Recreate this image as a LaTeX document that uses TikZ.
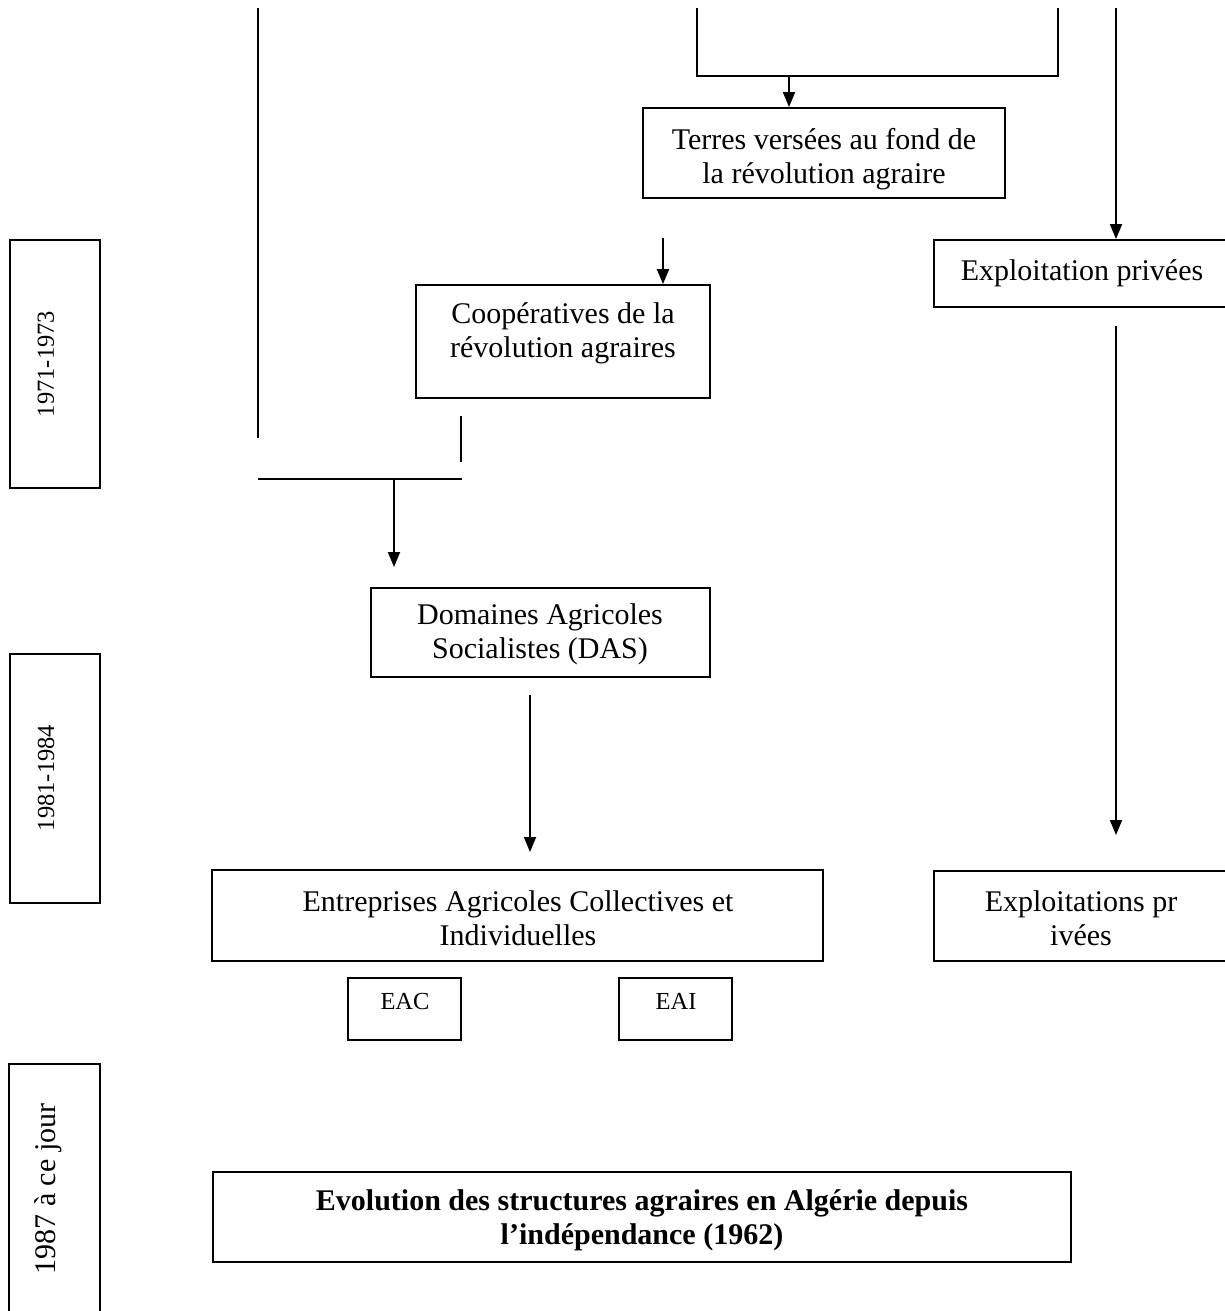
\documentclass[tikz,border=0pt]{standalone}
\usepackage{fontspec}
\setmainfont{Liberation Serif}
\usetikzlibrary{arrows.meta,fit}
\newcommand\bigfs{\fontsize{30}{34}\selectfont}
\newcommand\smallfs{\fontsize{24.5}{28}\selectfont}
\begin{document}
\begin{tikzpicture}[x=1pt,y=-1pt,
  box/.style={draw, line width=1.8pt, inner sep=0pt},
  txt/.style={font=\bigfs, align=center, inner sep=0pt},
  smalltxt/.style={font=\smallfs, inner sep=0pt},
  conn/.style={line width=1.8pt},
  arr/.style={conn, -{Triangle[length=15pt,width=12pt]}}]
\useasboundingbox (0,0) rectangle (1225,1311);

% boxes
\node[box, fit={(643,108)(1005,198)}] (terres) {};
\node[txt] (terresT) at (824,159) {Terres versées au fond de\\la révolution agraire};

\node[box, fit={(934,240)(1232,307)}] (exp1) {};
\node[txt] (exp1T) at (1082,273) {Exploitation privées};

\node[box, fit={(416,285)(710,398)}] (coop) {};
\node[txt] (coopT) at (563,333) {Coopératives de la\\révolution agraires};

\node[box, fit={(371,588)(710,677)}] (das) {};
\node[txt] (dasT) at (540,634) {Domaines Agricoles\\Socialistes (DAS)};

\node[box, fit={(212,870)(823,961)}] (eaci) {};
\node[txt] (eaciT) at (518,918) {Entreprises Agricoles Collectives et\\Individuelles};

\node[box, fit={(934,871)(1232,961)}] (exp2) {};
\node[txt] (exp2T) at (1081,918) {Exploitations pr\\ivées};

\node[box, fit={(348,978)(461,1040)}] (eac) {};
\node[smalltxt] (eacT) at (405,1001) {EAC};
\node[box, fit={(619,978)(732,1040)}] (eai) {};
\node[smalltxt] (eaiT) at (676,1001) {EAI};

\node[box, fit={(213,1172)(1071,1262)}] (title) {};
\node[txt, font=\bigfs\bfseries] (titleT) at (642,1220) {Evolution des structures agraires en Algérie depuis\\l’indépendance (1962)};

% period boxes
\node[box, fit={(10,240)(100,488)}] (p1) {};
\node[smalltxt, rotate=90] (p1T) at (46,364) {1971-1973};
\node[box, fit={(10,654)(100,903)}] (p2) {};
\node[smalltxt, rotate=90] (p2T) at (46,778) {1981-1984};
\node[box, fit={(9,1064)(100,1330)}] (p3) {};
\node[txt, rotate=90] (p3T) at (48,1189) {1987 à ce jour};

% top open box
\coordinate (tl) at (697,8);
\coordinate (tbl) at (697,76);
\coordinate (tbr) at (1058,76);
\coordinate (tr) at (1058,8);
\draw[conn] (tl) -- (tbl) -- (tbr) -- (tr);
\coordinate (tmid) at (789,76);
\draw[arr] (tmid) -- (terres.north -| tmid);

% left long line
\coordinate (lv1) at (258,8);
\coordinate (lv2) at (258,438);
\draw[conn] (lv1) -- (lv2);

% right line to Exploitation privées
\coordinate (rv1) at (1116,8);
\draw[arr] (rv1) -- (exp1.north -| rv1);

% Terres -> Coop
\coordinate (a2s) at (663,238);
\draw[arr] (a2s) -- (coop.north -| a2s);

% junction below coop
\coordinate (sv1) at (461,416);
\coordinate (sv2) at (461,462);
\draw[conn] (sv1) -- (sv2);
\coordinate (h1) at (258,479);
\coordinate (h2) at (462,479);
\draw[conn] (h1) -- (h2);
\coordinate (a3s) at (394,479);
\coordinate (a3e) at (394,567);
\draw[arr] (a3s) -- (a3e);

% DAS -> EACI
\coordinate (a4s) at (530,695);
\coordinate (a4e) at (530,852);
\draw[arr] (a4s) -- (a4e);

% right lower line
\coordinate (rv2) at (1116,326);
\coordinate (rv3) at (1116,835);
\draw[arr] (rv2) -- (rv3);
\end{tikzpicture}
\end{document}
